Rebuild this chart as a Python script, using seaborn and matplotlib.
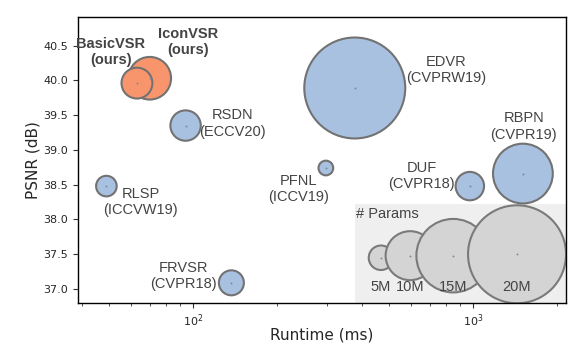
import numpy as np
import pandas as pd
import matplotlib
matplotlib.use("Agg")
import matplotlib.pyplot as plt
from matplotlib.patches import Rectangle
from matplotlib.ticker import NullFormatter, FixedLocator, FormatStrFormatter
import seaborn as sns

# ---- data ----
methods = ["IconVSR", "BasicVSR", "RSDN", "EDVR", "PFNL", "DUF", "RBPN", "RLSP", "FRVSR"]
labels = ["IconVSR\n(ours)", "BasicVSR\n(ours)", "RSDN\n(ECCV20)", "EDVR\n(CVPRW19)",
          "PFNL\n(ICCV19)", "DUF\n(CVPR18)", "RBPN\n(CVPR19)", "RLSP\n(ICCVW19)", "FRVSR\n(CVPR18)"]
runtime = [70, 63, 94, 378, 298, 974, 1507, 49, 137]
psnr = [40.03, 39.96, 39.35, 39.89, 38.74, 38.48, 38.66, 38.48, 37.09]
params = [8.7, 6.3, 6.2, 20.6, 3.0, 5.8, 12.2, 4.2, 5.1]
group = ["ours", "ours", "other", "other", "other", "other", "other", "other", "other"]

legend_params = [5, 10, 15, 20]
legend_labels = ["5M", "10M", "15M", "20M"]
legend_runtime = [469, 596, 849, 1436]
legend_psnr = [37.45, 37.48, 37.48, 37.50]

yticks = [37.0, 37.5, 38.0, 38.5, 39.0, 39.5, 40.0, 40.5]

# ---- styling ----
label_offsets = [(38, 36), (-26, 31), (47, 2), (91, 18), (-27, -21), (-48, 10), (1, 47), (34, -16), (-48, 7)]
px_per_M = 2.45
def area(p):
    return (2 * px_per_M * p * 0.72) ** 2

df = pd.DataFrame({"method": methods, "runtime": runtime, "psnr": psnr,
                   "params": params, "group": group})
df["s"] = [area(p) for p in df["params"]]
leg = pd.DataFrame({"runtime": legend_runtime, "psnr": legend_psnr, "params": legend_params})
leg["s"] = [area(p) for p in leg["params"]]

sns.set_style("ticks")
plt.rcParams["font.family"] = ["DejaVu Sans"]

fig = plt.figure(figsize=(5.87, 3.5), dpi=100)
ax = fig.add_axes([0.1329, 0.1343, 0.8313, 0.8171])
ax.set_xscale("log")

ax.add_patch(Rectangle((0.568, 0), 0.432, 0.346, transform=ax.transAxes,
                       facecolor="#efefef", edgecolor="none", zorder=0))

sns.scatterplot(data=df, x="runtime", y="psnr", hue="group",
                palette={"ours": "#f9956c", "other": "#a9c1e1"},
                s=df["s"].values, edgecolor="#727272", linewidth=1.5,
                alpha=1.0, legend=False, ax=ax, zorder=2)
sns.scatterplot(data=leg, x="runtime", y="psnr", color="#d4d4d4",
                s=leg["s"].values, edgecolor="#7a7a7a", linewidth=1.5,
                legend=False, ax=ax, zorder=2)
# center dots
sns.scatterplot(data=df, x="runtime", y="psnr", color="#7a8aa0", s=2, linewidth=0,
                legend=False, ax=ax, zorder=3)
sns.scatterplot(data=leg, x="runtime", y="psnr", color="#8a8a8a", s=2, linewidth=0,
                legend=False, ax=ax, zorder=3)

for lab, x, y, g, off in zip(labels, runtime, psnr, group, label_offsets):
    ax.annotate(lab, (x, y), xytext=off, textcoords="offset pixels",
                ha="center", va="center", multialignment="center",
                fontsize=10.5, color="#444444", family="Liberation Sans",
                fontweight="bold" if g == "ours" else "normal", zorder=4)

ax.text(0.570, 0.311, "# Params", transform=ax.transAxes, ha="left", va="center",
        fontsize=10.5, color="#444444", family="Liberation Sans", zorder=4)
for lab, x in zip(legend_labels, legend_runtime):
    ax.text(x, 0.056, lab, transform=ax.get_xaxis_transform(), ha="center", va="center",
            fontsize=10.5, color="#444444", family="Liberation Sans", zorder=4)

ax.set_xlim(38.8, 2148)
ax.set_ylim(36.8, 40.91)
ax.yaxis.set_major_locator(FixedLocator(yticks))
ax.yaxis.set_major_formatter(FormatStrFormatter("%.1f"))
ax.xaxis.set_minor_formatter(NullFormatter())

for sp in ax.spines.values():
    sp.set_color("black")
    sp.set_linewidth(1.0)
    sp.set_visible(True)
ax.tick_params(axis="both", which="major", labelsize=8, length=3.5, width=0.8, color="#333333")
ax.tick_params(axis="x", which="minor", length=2, width=0.6, color="#333333")

ax.set_xlabel("Runtime (ms)", fontsize=11)
ax.set_ylabel("PSNR (dB)", fontsize=11, labelpad=2)
ax.xaxis.set_label_coords(0.5, -0.085)

fig.savefig("out.png", dpi=100)
